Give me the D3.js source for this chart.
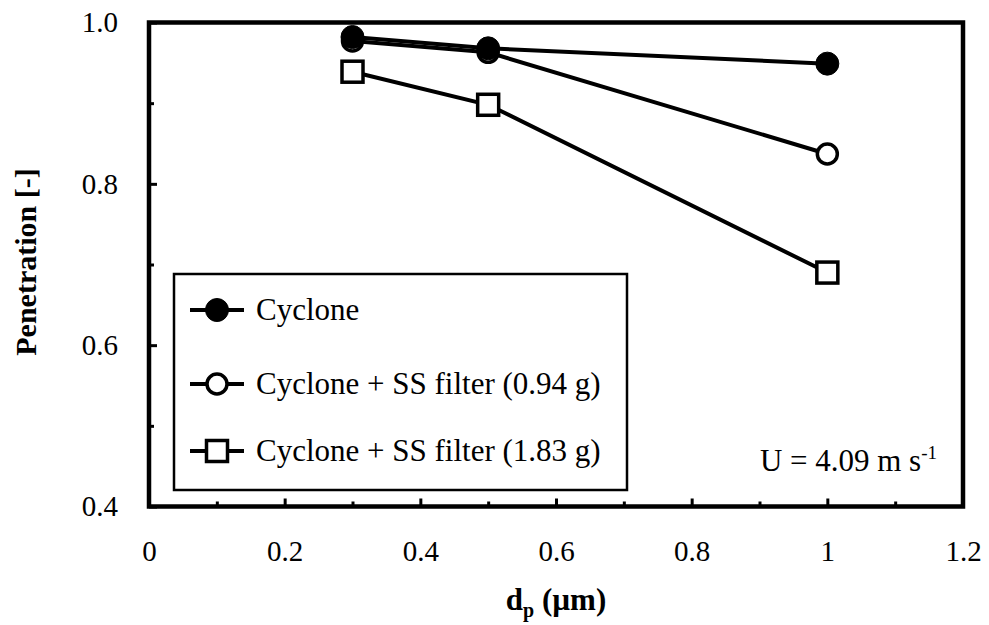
<!DOCTYPE html>
<html>
<head>
<meta charset="utf-8">
<script src="https://cdnjs.cloudflare.com/ajax/libs/d3/7.8.5/d3.min.js"></script>
<style>
  body { margin: 0; background: #fff; }
  text { font-family: "Liberation Serif", "Times New Roman", Times, serif; }
</style>
</head>
<body>
<div id="chart"></div>
<script>
// particle diameter (um) and penetration of each series
var dp = [0.3, 0.5, 1.0];
var cyclone = [0.982, 0.968, 0.949];
var ss094 = [0.977, 0.963, 0.837];
var ss183 = [0.939, 0.898, 0.690];
var seriesNames = ["Cyclone", "Cyclone + SS filter (0.94 g)", "Cyclone + SS filter (1.83 g)"];
var xTicks = [0, 0.2, 0.4, 0.6, 0.8, 1.0, 1.2];
var xMinorTicks = [0.1, 0.3, 0.5, 0.7, 0.9, 1.1];
var yTicks = [0.4, 0.6, 0.8, 1.0];
var yMinorTicks = [0.5, 0.7, 0.9];

var serif = "Liberation Serif";
var width = 989;
var height = 625;
var margin = {left: 149, top: 22.5, right: 26, bottom: 118.5};
var plotW = width - margin.left - margin.right;
var plotH = height - margin.top - margin.bottom;

var svg = d3.select("#chart").append("svg")
    .attr("width", width)
    .attr("height", height)
    .attr("font-family", serif);

var x = d3.scaleLinear()
    .domain([0, 1.2])
    .range([margin.left, margin.left + plotW]);

var y = d3.scaleLinear()
    .domain([0.4, 1.0])
    .range([margin.top + plotH, margin.top]);

// axes, ticks pointing inward
var xAxis = svg.append("g")
    .attr("transform", "translate(0," + (margin.top + plotH) + ")")
    .call(d3.axisBottom(x)
        .tickValues(xTicks)
        .tickSizeInner(-8)
        .tickSizeOuter(0)
        .tickPadding(34)
        .tickFormat(d3.format("~g")));

var xMinor = svg.append("g")
    .attr("transform", "translate(0," + (margin.top + plotH) + ")")
    .call(d3.axisBottom(x)
        .tickValues(xMinorTicks)
        .tickSizeInner(-5)
        .tickSizeOuter(0)
        .tickFormat(""));

var yAxis = svg.append("g")
    .attr("transform", "translate(" + margin.left + ",0)")
    .call(d3.axisLeft(y)
        .tickValues(yTicks)
        .tickSizeInner(-8)
        .tickSizeOuter(0)
        .tickPadding(31)
        .tickFormat(d3.format(".1f")));

var yMinor = svg.append("g")
    .attr("transform", "translate(" + margin.left + ",0)")
    .call(d3.axisLeft(y)
        .tickValues(yMinorTicks)
        .tickSizeInner(-5)
        .tickSizeOuter(0)
        .tickFormat(""));

[xAxis, xMinor, yAxis, yMinor].forEach(function(g) {
    g.attr("font-family", serif).attr("font-size", 29);
    g.select(".domain").remove();
    g.selectAll(".tick line")
        .attr("stroke", "#000")
        .attr("stroke-width", 3);
    g.selectAll(".tick text")
        .attr("fill", "#000")
        .attr("font-family", serif);
});

// plot frame
svg.append("rect")
    .attr("x", margin.left)
    .attr("y", margin.top)
    .attr("width", plotW)
    .attr("height", plotH)
    .attr("fill", "none")
    .attr("stroke", "#000")
    .attr("stroke-width", 4.5);

var series = [
    {name: seriesNames[2], values: ss183, marker: "square"},
    {name: seriesNames[1], values: ss094, marker: "open"},
    {name: seriesNames[0], values: cyclone, marker: "filled"}
];

var line = d3.line()
    .x(function(d) { return x(d.x); })
    .y(function(d) { return y(d.y); });

function drawMarker(g, type, cx, cy) {
    if (type === "square") {
        g.append("rect")
            .attr("x", cx - 10.5)
            .attr("y", cy - 10.5)
            .attr("width", 21)
            .attr("height", 21)
            .attr("fill", "#fff")
            .attr("stroke", "#000")
            .attr("stroke-width", 3.5);
    } else {
        g.append("circle")
            .attr("cx", cx)
            .attr("cy", cy)
            .attr("r", type === "filled" ? 11.5 : 10)
            .attr("fill", type === "filled" ? "#000" : "#fff")
            .attr("stroke", "#000")
            .attr("stroke-width", type === "filled" ? 1 : 3.5);
    }
}

series.forEach(function(s) {
    var pts = dp.map(function(d, i) { return {x: d, y: s.values[i]}; });
    var g = svg.append("g");
    g.append("path")
        .datum(pts)
        .attr("d", line)
        .attr("fill", "none")
        .attr("stroke", "#000")
        .attr("stroke-width", 4);
    pts.forEach(function(p) {
        drawMarker(g, s.marker, x(p.x), y(p.y));
    });
});

// legend
var legend = svg.append("g");
legend.append("rect")
    .attr("x", 174)
    .attr("y", 274)
    .attr("width", 453)
    .attr("height", 216)
    .attr("fill", "#fff")
    .attr("stroke", "#000")
    .attr("stroke-width", 2.5);

var legendRows = [310, 384, 451];
var legendMarkers = ["filled", "open", "square"];
seriesNames.forEach(function(name, i) {
    var ly = legendRows[i];
    legend.append("line")
        .attr("x1", 190)
        .attr("x2", 244)
        .attr("y1", ly)
        .attr("y2", ly)
        .attr("stroke", "#000")
        .attr("stroke-width", 4);
    drawMarker(legend, legendMarkers[i], 217, ly);
    legend.append("text")
        .attr("x", 256)
        .attr("y", ly)
        .attr("dy", "0.33em")
        .attr("font-family", serif)
        .attr("font-size", 31)
        .text(name);
});

// velocity annotation
var note = svg.append("text")
    .attr("x", 937)
    .attr("y", 471)
    .attr("text-anchor", "end")
    .attr("font-family", serif)
    .attr("font-size", 31);
note.append("tspan").text("U = 4.09 m s");
note.append("tspan")
    .attr("dy", -12)
    .attr("font-size", 19)
    .text("-1");

// axis titles
var xTitle = svg.append("text")
    .attr("x", 556)
    .attr("y", 610)
    .attr("text-anchor", "middle")
    .attr("font-family", serif)
    .attr("font-size", 31)
    .attr("font-weight", "bold");
xTitle.append("tspan").text("d");
xTitle.append("tspan")
    .attr("dy", 7)
    .attr("font-size", 20)
    .text("p");
xTitle.append("tspan")
    .attr("dy", -7)
    .text(" (\u00b5m)");

svg.append("text")
    .attr("transform", "translate(36,262) rotate(-90)")
    .attr("text-anchor", "middle")
    .attr("font-family", serif)
    .attr("font-size", 30)
    .attr("font-weight", "bold")
    .text("Penetration [-]");
</script>
</body>
</html>
